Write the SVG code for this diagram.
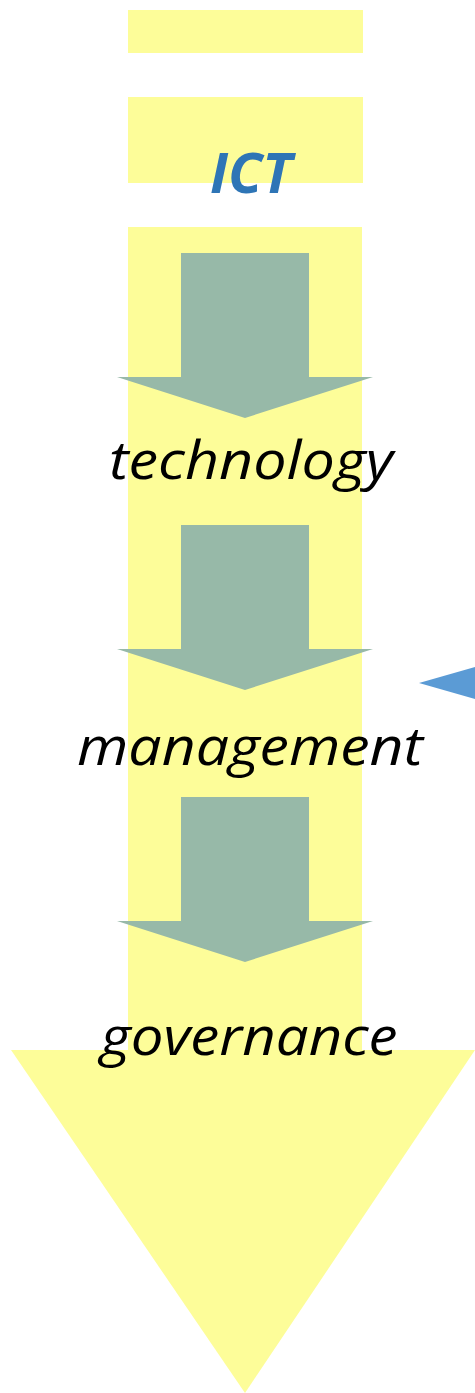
<svg xmlns="http://www.w3.org/2000/svg" width="475" height="1393" viewBox="0 0 475 1393">
<style>
.y{fill:#FDFD99}
.g{fill:#97B9A8}
.t{font-family:"Open Sans","Liberation Sans",sans-serif;font-style:italic;font-size:53px;fill:#000;text-anchor:middle}
</style>
<rect width="475" height="1393" fill="#fff"/>
<g id="band">
<rect class="y" x="128" y="10" width="235" height="43"/>
<rect class="y" x="128" y="97" width="235" height="86"/>
<rect class="y" x="128" y="227" width="234" height="824"/>
<polygon class="y" points="11,1050 475,1050 245,1393"/>
</g>
<g id="connectors">
<polygon class="g" points="181,253 309,253 309,377 373,377 245,418 117,377 181,377"/>
<polygon class="g" points="181,525 309,525 309,649 373,649 245,690 117,649 181,649"/>
<polygon class="g" points="181,797 309,797 309,921 373,921 245,962 117,921 181,921"/>
<polygon fill="#5B9BD5" points="419,683 475,667 475,699"/>
</g>
<g id="ict"><text x="251" y="193" font-family="Open Sans, Liberation Sans, sans-serif" font-style="italic" font-weight="bold" font-size="56" fill="#2E75B6" text-anchor="middle" textLength="82" lengthAdjust="spacingAndGlyphs">ICT</text></g>
<g id="technology"><text class="t" x="251" y="479" textLength="284" lengthAdjust="spacingAndGlyphs">technology</text></g>
<g id="management"><text class="t" x="250" y="765" textLength="346" lengthAdjust="spacingAndGlyphs">management</text></g>
<g id="governance"><text class="t" x="249" y="1055" textLength="297" lengthAdjust="spacingAndGlyphs">governance</text></g>
</svg>
